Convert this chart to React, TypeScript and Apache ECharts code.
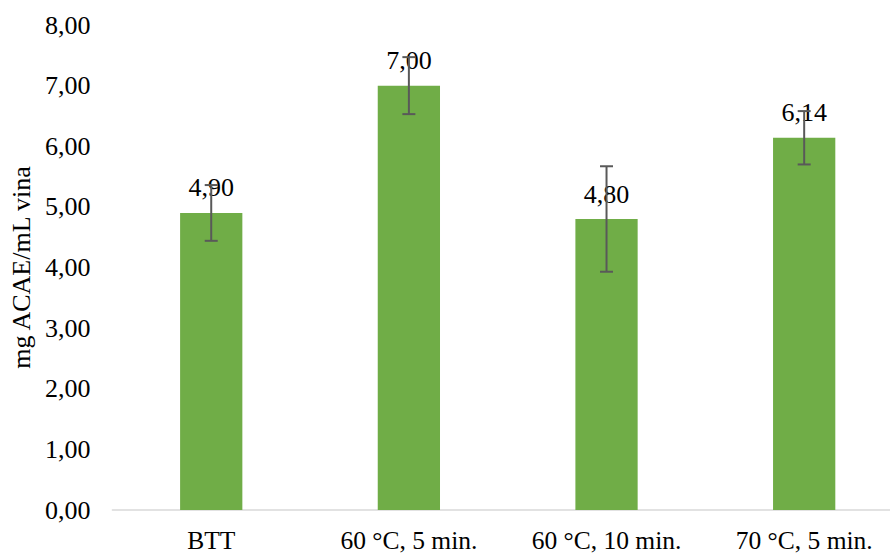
import React, { useEffect, useRef } from "react";
import * as echarts from "echarts";

const categories = ["BTT", "60 °C, 5 min.", "60 °C, 10 min.", "70 °C, 5 min."];
const values = [4.9, 7.0, 4.8, 6.14];
const errors = [0.46, 0.47, 0.87, 0.44];
const yTicks = { min: 0, max: 8, interval: 1 };

const fmt = (v: number) => v.toFixed(2).replace(".", ",");
const FONT = "'Liberation Serif', 'Times New Roman', serif";

export default function App() {
  const ref = useRef<HTMLDivElement>(null);
  useEffect(() => {
    if (!ref.current) return;
    const chart = echarts.init(ref.current, null, { renderer: "svg" });
    const errData = values.map((v, i) => [i, v - errors[i], v + errors[i]]);
    chart.setOption({
      animation: false,
      textStyle: { fontFamily: FONT },
      grid: { left: 112, right: 0, top: 25, bottom: 44 },
      xAxis: {
        type: "category",
        data: categories,
        axisLine: { lineStyle: { color: "#d9d9d9", width: 1.5 } },
        axisTick: { show: false },
        axisLabel: {
          color: "#000",
          fontSize: 25.5,
          fontFamily: FONT,
          margin: 17,
          interval: 0,
          hideOverlap: false,
        },
      },
      yAxis: {
        type: "value",
        min: yTicks.min,
        max: yTicks.max,
        interval: yTicks.interval,
        name: "mg ACAE/mL vina",
        nameLocation: "middle",
        nameGap: 70,
        nameTextStyle: { color: "#000", fontSize: 26, fontFamily: FONT },
        splitLine: { show: false },
        axisLine: { show: false },
        axisTick: { show: false },
        axisLabel: {
          color: "#000",
          fontSize: 26,
          fontFamily: FONT,
          margin: 22,
          formatter: (v: number) => fmt(v),
        },
      },
      series: [
        {
          type: "bar",
          data: values,
          barWidth: "31.5%",
          itemStyle: { color: "#70AD47" },
          label: {
            show: true,
            position: "top",
            distance: 12,
            color: "#000",
            fontSize: 26,
            fontFamily: FONT,
            formatter: (p: any) => fmt(p.value),
          },
          z: 2,
        },
        {
          type: "custom",
          data: errData,
          z: 10,
          renderItem: (params: any, api: any) => {
            const x = api.value(0);
            const lo = api.coord([x, api.value(1)]);
            const hi = api.coord([x, api.value(2)]);
            const cap = 6.5;
            const style = { stroke: "#595959", lineWidth: 2 };
            return {
              type: "group",
              children: [
                { type: "line", shape: { x1: lo[0], y1: lo[1], x2: hi[0], y2: hi[1] }, style },
                { type: "line", shape: { x1: lo[0] - cap, y1: lo[1], x2: lo[0] + cap, y2: lo[1] }, style },
                { type: "line", shape: { x1: hi[0] - cap, y1: hi[1], x2: hi[0] + cap, y2: hi[1] }, style },
              ],
            };
          },
        },
      ],
    });
    return () => chart.dispose();
  }, []);
  return (
    <div style={{ position: "absolute", left: 0, top: 0, width: 890, height: 554, overflow: "hidden" }}>
      <div ref={ref} style={{ width: 903, height: 554 }} />
    </div>
  );
}
